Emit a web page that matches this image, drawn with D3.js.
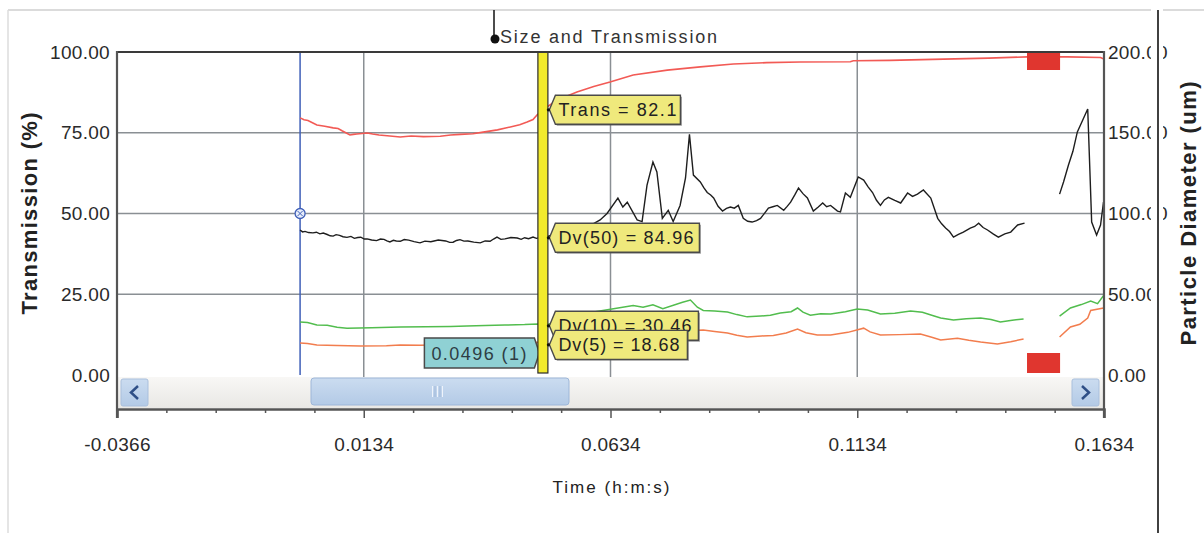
<!DOCTYPE html>
<html>
<head>
<meta charset="utf-8">
<script src="https://cdn.jsdelivr.net/npm/d3@7"></script>
<style>
  body { margin: 0; background: #fff; }
  svg text { font-family: "Liberation Sans", Arial, sans-serif; fill: #222; }
</style>
</head>
<body>
<svg id="chart" width="1204" height="533"></svg>
<script>
// ---------------------------------------------------------------------------
// Data (time in h:m:s fractions, Trans in %, Dv in um)
// ---------------------------------------------------------------------------
const xTicks = [-0.0366, 0.0134, 0.0634, 0.1134, 0.1634];
const leftTicks = [0, 25, 50, 75, 100];
const rightTicks = [0, 50, 100, 150, 200];

const transSeries = [
  [0.0005, 79.6], [0.0013, 79.0], [0.0021, 78.8], [0.0030, 78.1], [0.0039, 77.4],
  [0.0055, 77.0], [0.0072, 76.5], [0.0082, 76.3], [0.0090, 75.6], [0.0106, 74.3],
  [0.0113, 74.5], [0.0120, 74.6], [0.0141, 74.9], [0.0152, 74.6], [0.0165, 74.3],
  [0.0187, 74.0], [0.0208, 73.7], [0.0230, 74.0], [0.0255, 73.8], [0.0289, 73.9],
  [0.0310, 74.3], [0.0330, 74.5], [0.0355, 74.7], [0.0376, 75.2], [0.0405, 75.9],
  [0.0431, 76.8], [0.0450, 77.5], [0.0465, 78.3], [0.0477, 79.1], [0.0485, 80.5],
  [0.0497, 82.1], [0.0520, 84.5], [0.0545, 86.3], [0.0566, 87.6], [0.0600, 89.3],
  [0.0633, 90.7], [0.0680, 92.9], [0.0749, 94.4], [0.0816, 95.4], [0.0883, 96.3],
  [0.0950, 96.7], [0.1019, 96.9], [0.1120, 97.0], [0.1126, 97.3], [0.1200, 97.4],
  [0.1309, 97.8], [0.1400, 98.1], [0.1479, 98.5], [0.1560, 98.5], [0.1627, 98.3],
  [0.1634, 97.8]
];

const dv50Series = [
  [0.0005, 89.8], [0.0010, 88.6], [0.0015, 88.9], [0.0022, 88.2], [0.0031, 88.0],
  [0.0038, 88.4], [0.0045, 87.4], [0.0052, 87.9], [0.0060, 87.0], [0.0066, 86.2],
  [0.0072, 86.0], [0.0078, 86.9], [0.0085, 86.5], [0.0092, 85.6], [0.0100, 85.2],
  [0.0108, 85.8], [0.0115, 84.6], [0.0122, 85.1], [0.0128, 85.3], [0.0135, 84.2],
  [0.0141, 84.3], [0.0150, 83.6], [0.0160, 83.2], [0.0168, 84.2], [0.0175, 84.0],
  [0.0181, 83.0], [0.0187, 82.4], [0.0194, 83.4], [0.0200, 83.0], [0.0208, 82.8],
  [0.0216, 83.9], [0.0225, 83.5], [0.0236, 82.6], [0.0248, 81.8], [0.0258, 82.9],
  [0.0270, 82.5], [0.0285, 83.6], [0.0300, 83.0], [0.0308, 82.1], [0.0315, 82.2],
  [0.0322, 83.3], [0.0329, 83.8], [0.0337, 82.9], [0.0345, 83.0], [0.0357, 82.3],
  [0.0370, 81.8], [0.0380, 83.0], [0.0390, 82.8], [0.0397, 84.2], [0.0404, 85.4],
  [0.0412, 84.0], [0.0420, 84.3], [0.0432, 85.1], [0.0445, 84.8], [0.0453, 84.0],
  [0.0460, 85.0], [0.0468, 84.4], [0.0477, 85.4], [0.0484, 84.6], [0.0490, 85.0],
  [0.0497, 84.96], [0.0515, 86.5], [0.0540, 88.0], [0.0565, 90.0], [0.0590, 92.0],
  [0.0613, 96.0], [0.0627, 100.0], [0.0649, 109.5], [0.0659, 104.0], [0.0668, 107.0],
  [0.0688, 96.0], [0.0698, 95.0], [0.0708, 117.6], [0.0720, 131.9], [0.0728, 125.7],
  [0.0739, 97.0], [0.0751, 102.0], [0.0761, 95.0], [0.0775, 105.0], [0.0786, 122.0],
  [0.0794, 149.0], [0.0802, 123.8], [0.0816, 119.5], [0.0823, 116.0], [0.0830, 113.0],
  [0.0837, 111.5], [0.0843, 109.6], [0.0852, 104.5], [0.0861, 101.5], [0.0869, 103.2],
  [0.0877, 104.0], [0.0885, 103.3], [0.0893, 105.0], [0.0903, 97.0], [0.0912, 95.2],
  [0.0921, 94.7], [0.0930, 95.6], [0.0938, 97.0], [0.0946, 100.1], [0.0954, 103.4],
  [0.0963, 104.2], [0.0972, 105.0], [0.0985, 102.0], [0.0992, 104.4], [0.0999, 107.0],
  [0.1008, 111.8], [0.1015, 115.8], [0.1024, 112.3], [0.1033, 109.6], [0.1045, 101.5],
  [0.1055, 104.0], [0.1064, 106.5], [0.1072, 104.2], [0.1080, 105.0], [0.1094, 101.5],
  [0.1100, 101.0], [0.1110, 112.7], [0.1120, 110.0], [0.1136, 122.6], [0.1147, 120.7],
  [0.1156, 116.5], [0.1165, 113.0], [0.1173, 108.2], [0.1181, 105.0], [0.1189, 108.4],
  [0.1197, 110.0], [0.1210, 108.1], [0.1222, 106.5], [0.1236, 112.7], [0.1246, 110.6],
  [0.1256, 112.0], [0.1268, 114.6], [0.1283, 109.6], [0.1297, 97.0], [0.1305, 93.6],
  [0.1313, 91.0], [0.1321, 88.8], [0.1329, 85.4], [0.1339, 87.0], [0.1349, 88.5],
  [0.1363, 91.0], [0.1372, 92.0], [0.1380, 94.0], [0.1389, 91.3], [0.1398, 89.8],
  [0.1410, 87.2], [0.1420, 85.4], [0.1433, 87.4], [0.1445, 88.5], [0.1459, 92.9],
  [0.1473, 94.0], [0.1500, null],
  [0.1544, 112.0], [0.1552, 119.5], [0.1562, 130.0], [0.1571, 138.5], [0.1580, 150.5],
  [0.1601, 164.7], [0.1605, 130.0], [0.1609, 94.7], [0.1619, 86.7], [0.1627, 92.9],
  [0.1633, 107.0]
];

const dv10Series = [
  [0.0005, 32.8], [0.0020, 32.5], [0.0039, 31.0], [0.0060, 30.8], [0.0080, 29.5],
  [0.0100, 29.0], [0.0150, 29.2], [0.0208, 29.7], [0.0260, 29.9], [0.0310, 30.1],
  [0.0343, 30.3], [0.0380, 30.6], [0.0420, 30.9], [0.0460, 31.2], [0.0487, 31.6],
  [0.0497, 30.46], [0.0540, 34.0], [0.0600, 39.0], [0.0680, 43.0], [0.0700, 42.0],
  [0.0720, 43.5], [0.0740, 41.0], [0.0780, 45.0], [0.0796, 46.4], [0.0810, 42.0],
  [0.0822, 40.0], [0.0845, 39.6], [0.0871, 39.0], [0.0890, 37.4], [0.0911, 36.0],
  [0.0938, 36.5], [0.0958, 37.0], [0.0978, 38.4], [0.1000, 39.2], [0.1013, 41.5],
  [0.1024, 38.9], [0.1039, 37.0], [0.1060, 37.9], [0.1080, 37.8], [0.1110, 39.2],
  [0.1134, 40.9], [0.1155, 40.3], [0.1181, 37.8], [0.1210, 38.3], [0.1242, 39.6],
  [0.1266, 38.8], [0.1285, 37.0], [0.1303, 35.3], [0.1329, 34.0], [0.1355, 34.8],
  [0.1384, 35.3], [0.1405, 34.4], [0.1424, 32.8], [0.1448, 33.9], [0.1471, 34.7],
  [0.1500, null],
  [0.1544, 36.5], [0.1566, 41.5], [0.1588, 43.6], [0.1607, 45.8], [0.1621, 44.2],
  [0.1634, 49.5]
];

const dv5Series = [
  [0.0005, 19.8], [0.0020, 19.5], [0.0039, 18.6], [0.0080, 18.3], [0.0127, 18.0],
  [0.0180, 18.1], [0.0208, 18.6], [0.0248, 18.4], [0.0300, 18.8], [0.0350, 19.0],
  [0.0400, 19.3], [0.0450, 19.6], [0.0487, 20.2], [0.0497, 18.68], [0.0560, 21.0],
  [0.0650, 25.0], [0.0720, 26.5], [0.0822, 27.9], [0.0845, 27.0], [0.0871, 26.0],
  [0.0890, 24.6], [0.0911, 23.5], [0.0940, 24.2], [0.0964, 24.5], [0.0990, 26.0],
  [0.1013, 28.5], [0.1030, 26.2], [0.1053, 24.8], [0.1080, 24.8], [0.1115, 26.4],
  [0.1147, 29.0], [0.1160, 26.7], [0.1181, 24.8], [0.1220, 25.0], [0.1262, 25.4],
  [0.1285, 23.4], [0.1303, 21.7], [0.1337, 22.8], [0.1360, 21.5], [0.1384, 20.4],
  [0.1418, 19.2], [0.1445, 20.6], [0.1471, 22.3], [0.1500, null],
  [0.1544, 23.5], [0.1566, 29.7], [0.1585, 31.4], [0.1601, 35.3], [0.1607, 40.0],
  [0.1633, 41.5]
];

const startTime = 0.0005;          // blue start marker
const cursorTime = 0.0496;         // yellow cursor
const gapRange = [0.1478, 0.1545]; // red excluded-region markers

const callouts = [
  { label: "Trans = 82.1",  value: 82.1,  axis: "left",  w: 131, tl: 118 },
  { label: "Dv(50) = 84.96", value: 84.96, axis: "right", w: 150, tl: 135 },
  { label: "Dv(10) = 30.46", value: 30.46, axis: "right", w: 149, tl: 133 },
  { label: "Dv(5) = 18.68",  value: 18.68, axis: "right", w: 138, tl: 121 }
];

// ---------------------------------------------------------------------------
// Layout
// ---------------------------------------------------------------------------
const plot = { left: 117, right: 1104, top: 52, bottom: 375, axisY: 409 };

const svg = d3.select("#chart");

const x = d3.scaleLinear().domain([xTicks[0], xTicks[xTicks.length - 1]]).range([plot.left, plot.right]);
const yL = d3.scaleLinear().domain([0, 100]).range([plot.bottom, plot.top]);
const yR = d3.scaleLinear().domain([0, 200]).range([plot.bottom, plot.top]);

// plain hyphen minus like the original software
const fmt2 = v => d3.format(".2f")(v).replace("\u2212", "-");
const fmt4 = v => d3.format(".4f")(v).replace("\u2212", "-");

// outer frame bits
svg.append("line").attr("x1", 8).attr("x2", 1151).attr("y1", 10).attr("y2", 10).attr("stroke", "#cfcfcf").attr("stroke-width", 1.5);
svg.append("line").attr("x1", 1163).attr("x2", 1204).attr("y1", 10).attr("y2", 10).attr("stroke", "#cfcfcf").attr("stroke-width", 1.5);
svg.append("line").attr("x1", 8).attr("x2", 8).attr("y1", 10).attr("y2", 533).attr("stroke", "#dcdcdc").attr("stroke-width", 1.5);

// title with its pin
svg.append("line").attr("x1", 494).attr("x2", 494).attr("y1", 10).attr("y2", 37).attr("stroke", "#111").attr("stroke-width", 1.5);
svg.append("circle").attr("cx", 495).attr("cy", 39).attr("r", 4.5).attr("fill", "#111");
svg.append("text").attr("x", 500).attr("y", 43)
  .attr("font-size", 18).attr("textLength", 217).attr("lengthAdjust", "spacing")
  .style("fill", "#333")
  .text("Size and Transmission");

// grid
const grid = svg.append("g").attr("stroke", "#8a8f94").attr("stroke-width", 1.5);
grid.selectAll(".gx").data(xTicks.slice(1, -1)).join("line")
  .attr("x1", d => x(d)).attr("x2", d => x(d))
  .attr("y1", plot.top).attr("y2", plot.bottom + 2);
grid.selectAll(".gy").data(leftTicks.slice(1, -1)).join("line")
  .attr("x1", plot.left).attr("x2", plot.right)
  .attr("y1", d => yL(d)).attr("y2", d => yL(d));

// clip for series
svg.append("clipPath").attr("id", "plotClip").append("rect")
  .attr("x", plot.left).attr("y", plot.top).attr("width", plot.right - plot.left).attr("height", plot.bottom - plot.top + 2);

// blue start line
const xs = x(startTime);
svg.append("line").attr("x1", xs).attr("x2", xs).attr("y1", plot.top).attr("y2", plot.bottom)
  .attr("stroke", "#3f5fb8").attr("stroke-width", 1.5);

// series
const series = svg.append("g").attr("clip-path", "url(#plotClip)").attr("fill", "none");
const lineL = d3.line().defined(d => d[1] != null).x(d => x(d[0])).y(d => yL(d[1]));
const lineR = d3.line().defined(d => d[1] != null).x(d => x(d[0])).y(d => yR(d[1]));

series.append("path").datum(transSeries).attr("d", lineL).attr("stroke", "#f25a55").attr("stroke-width", 1.6);
series.append("path").datum(dv5Series).attr("d", lineR).attr("stroke", "#f27d4e").attr("stroke-width", 1.5);
series.append("path").datum(dv10Series).attr("d", lineR).attr("stroke", "#52bd4e").attr("stroke-width", 1.5);
series.append("path").datum(dv50Series).attr("d", lineR).attr("stroke", "#1e1e1e").attr("stroke-width", 1.4);

// start marker on the blue line
svg.append("circle").attr("cx", xs).attr("cy", yL(50)).attr("r", 5)
  .attr("fill", "#e8eefa").attr("stroke", "#3f5fb8").attr("stroke-width", 1.3);
svg.append("path").attr("d", `M${xs - 2.5},${yL(50) - 2.5}L${xs + 2.5},${yL(50) + 2.5}M${xs - 2.5},${yL(50) + 2.5}L${xs + 2.5},${yL(50) - 2.5}`)
  .attr("stroke", "#3f5fb8").attr("stroke-width", 1);

// red excluded-region markers
svg.append("rect").attr("x", x(gapRange[0])).attr("y", plot.top)
  .attr("width", x(gapRange[1]) - x(gapRange[0])).attr("height", 18).attr("fill", "#e0362f");
svg.append("rect").attr("x", x(gapRange[0])).attr("y", plot.bottom - 22)
  .attr("width", x(gapRange[1]) - x(gapRange[0])).attr("height", 20).attr("fill", "#e0362f");

// scrollbar
const defs = svg.append("defs");
const sg = defs.append("linearGradient").attr("id", "sbBg").attr("x1", 0).attr("x2", 0).attr("y1", 0).attr("y2", 1);
sg.append("stop").attr("offset", "0%").attr("stop-color", "#f8f7f5");
sg.append("stop").attr("offset", "100%").attr("stop-color", "#e9e8e5");
const tg = defs.append("linearGradient").attr("id", "sbThumb").attr("x1", 0).attr("x2", 0).attr("y1", 0).attr("y2", 1);
tg.append("stop").attr("offset", "0%").attr("stop-color", "#cbdcf0");
tg.append("stop").attr("offset", "100%").attr("stop-color", "#b3cae6");

svg.append("rect").attr("x", plot.left + 1).attr("y", 377).attr("width", plot.right - plot.left - 2).attr("height", 31)
  .attr("fill", "url(#sbBg)");
svg.append("rect").attr("x", 121).attr("y", 379).attr("width", 27).attr("height", 27).attr("rx", 2)
  .attr("fill", "url(#sbThumb)").attr("stroke", "#a9bfdc");
svg.append("path").attr("d", "M138,386L131,392.5L138,399").attr("fill", "none").attr("stroke", "#2f4f86").attr("stroke-width", 2.5);
svg.append("rect").attr("x", 1072).attr("y", 379).attr("width", 27).attr("height", 27).attr("rx", 2)
  .attr("fill", "url(#sbThumb)").attr("stroke", "#a9bfdc");
svg.append("path").attr("d", "M1082,386L1089,392.5L1082,399").attr("fill", "none").attr("stroke", "#2f4f86").attr("stroke-width", 2.5);
svg.append("rect").attr("x", 311).attr("y", 378).attr("width", 258).attr("height", 27).attr("rx", 3)
  .attr("fill", "url(#sbThumb)").attr("stroke", "#9db6d8");
svg.append("g").selectAll("line").data([0, 1, 2, 3, 4]).join("line")
  .attr("x1", d => 432.5 + d * 2.5).attr("x2", d => 432.5 + d * 2.5).attr("y1", 386).attr("y2", 397)
  .attr("stroke", d => d % 2 ? "#9fb7d8" : "#eef3fb").attr("stroke-width", 1);

// teal time callout
const xc = x(cursorTime);
const tcy = plot.bottom - 22;
svg.append("path")
  .attr("d", `M${xc - 118},${tcy - 15}H${xc - 8}L${xc - 3},${tcy}L${xc - 8},${tcy + 15}H${xc - 118}Z`)
  .attr("fill", "#8fd1d4").attr("stroke", "#4a4a4a").attr("stroke-width", 1.5);
svg.append("text").attr("x", xc - 111).attr("y", tcy + 6.5).attr("font-size", 18)
  .attr("textLength", 95).attr("lengthAdjust", "spacing").style("fill", "#2e3d44")
  .text(`${cursorTime.toFixed(4)} (1)`);

// yellow cursor band
svg.append("rect").attr("x", xc - 4.5).attr("y", plot.top).attr("width", 10).attr("height", plot.bottom - plot.top - 2)
  .attr("fill", "#f2ea2c").attr("stroke", "#2b2b2b").attr("stroke-width", 1.2);

// yellow value callouts
callouts.forEach(c => {
  const cy = c.axis === "left" ? yL(c.value) : yR(c.value);
  const tip = xc + 7;
  const h = 14.5;
  const shape = `M${tip},${cy}L${tip + 6},${cy - h}H${tip + c.w}V${cy + h}H${tip + 6}Z`;
  svg.append("path").attr("d", shape).attr("transform", "translate(1.5,1.5)").attr("fill", "#555").attr("opacity", 0.6);
  svg.append("path").attr("d", shape).attr("fill", "#efe97c").attr("stroke", "#4a4a4a").attr("stroke-width", 1.4);
  svg.append("text").attr("x", tip + 9).attr("y", cy + 6.5).attr("font-size", 18)
    .attr("textLength", c.tl).attr("lengthAdjust", "spacing").text(c.label);
  svg.append("circle").attr("cx", xc + 6).attr("cy", cy).attr("r", 1.6).attr("fill", "#111");
});

// frame
svg.append("line").attr("x1", plot.left).attr("x2", plot.right).attr("y1", plot.top).attr("y2", plot.top)
  .attr("stroke", "#3a3a3a").attr("stroke-width", 2);
svg.append("line").attr("x1", plot.left).attr("x2", plot.left).attr("y1", plot.top - 1).attr("y2", 418)
  .attr("stroke", "#555").attr("stroke-width", 2.2);
svg.append("line").attr("x1", plot.right).attr("x2", plot.right).attr("y1", plot.top - 1).attr("y2", 418)
  .attr("stroke", "#555").attr("stroke-width", 2.2);

// axes
const leftAxis = svg.append("g").attr("transform", `translate(${plot.left},0)`)
  .call(d3.axisLeft(yL).tickValues(leftTicks).tickSize(0).tickPadding(7).tickFormat(fmt2));
const rightAxis = svg.append("g").attr("transform", `translate(${plot.right},0)`)
  .call(d3.axisRight(yR).tickValues(rightTicks).tickSize(0).tickPadding(4).tickFormat(fmt2));
[leftAxis, rightAxis].forEach(a => {
  a.select(".domain").remove();
  a.selectAll("text").attr("font-size", 19).attr("letter-spacing", 0.3).style("fill", "#2a2a2a").attr("font-family", null);
});

const minorTicks = d3.range(-0.0266, 0.16, 0.01).filter(t => !xTicks.some(m => Math.abs(m - t) < 1e-6));
const bottomMinor = svg.append("g").attr("transform", `translate(0,${plot.axisY})`)
  .call(d3.axisBottom(x).tickValues(minorTicks).tickSize(4).tickFormat(""));
bottomMinor.select(".domain").remove();
bottomMinor.selectAll("line").attr("stroke", "#555").attr("stroke-width", 1.5);

const bottomAxis = svg.append("g").attr("transform", `translate(0,${plot.axisY})`)
  .call(d3.axisBottom(x).tickValues(xTicks).tickSize(9).tickPadding(20).tickFormat(fmt4));
bottomAxis.select(".domain").attr("stroke", "#555").attr("stroke-width", 2.5);
bottomAxis.selectAll("line").attr("stroke", "#555").attr("stroke-width", 1.5);
bottomAxis.selectAll("text").attr("font-size", 19).attr("letter-spacing", 0.3).style("fill", "#2a2a2a").attr("font-family", null);

// right-side separator cutting the right labels
svg.append("rect").attr("x", 1151).attr("y", 30).attr("width", 12).attr("height", 380).attr("fill", "#fff");
svg.append("line").attr("x1", 1158).attr("x2", 1158).attr("y1", 10).attr("y2", 533).attr("stroke", "#111").attr("stroke-width", 1.6);

// axis titles
svg.append("text").attr("transform", `translate(37,${yL(50)}) rotate(-90)`)
  .attr("text-anchor", "middle").attr("font-size", 22).attr("font-weight", "bold")
  .attr("textLength", 202).attr("lengthAdjust", "spacing").text("Transmission (%)");
svg.append("text").attr("transform", `translate(1196,${yR(100)}) rotate(-90)`)
  .attr("text-anchor", "middle").attr("font-size", 22).attr("font-weight", "bold")
  .attr("textLength", 264).attr("lengthAdjust", "spacing").text("Particle Diameter (um)");
svg.append("text").attr("x", (plot.left + plot.right) / 2 + 0.5).attr("y", 493)
  .attr("text-anchor", "middle").attr("font-size", 17)
  .attr("textLength", 117).attr("lengthAdjust", "spacing").text("Time (h:m:s)");
</script>
</body>
</html>
